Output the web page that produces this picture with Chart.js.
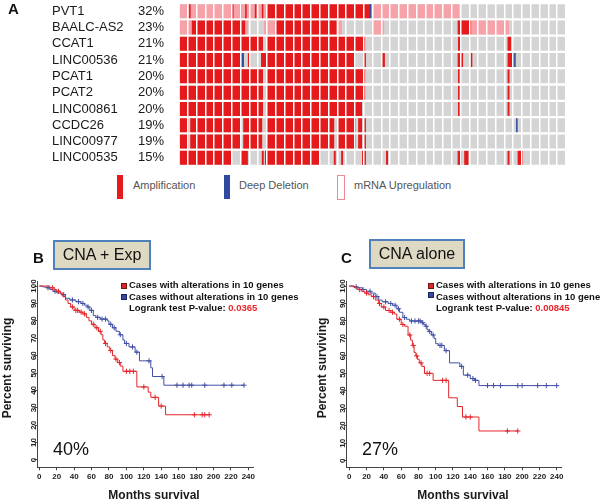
<!DOCTYPE html>
<html lang="en">
<head>
<meta charset="UTF-8" />
<title>Oncoprint and survival</title>
<script src="https://cdn.jsdelivr.net/npm/chart.js@4.4.1/dist/chart.umd.min.js"></script>
<style>
  body { margin:0; width:600px; height:504px; overflow:hidden; background:#fff; position:relative;
         font-family:"Liberation Sans", Arial, sans-serif; color:#1a1a1a; }
  .abs { position:absolute; white-space:nowrap; }
  .panel { font-weight:bold; font-size:15px; line-height:15px; color:#111; }
  .box { background:#ddd9c3; border:2px solid #4f81bd; box-sizing:border-box; font-size:16px;
         display:flex; align-items:center; justify-content:center; color:#111; }
  .leg { font-size:11px; line-height:11px; color:#555; }
  .km { font-size:9.5px; font-weight:bold; line-height:11.7px; color:#111; }
  .sq { width:4px; height:4px; border:1px solid; }
  .big { font-size:18px; line-height:18px; color:#111; }
  .axt { font-size:12px; font-weight:bold; line-height:14px; height:14px; text-align:center; color:#1a1a1a; }
  .rot { width:120px; transform:rotate(-90deg); }
</style>
</head>
<body>
<canvas id="onco" class="abs" style="left:0;top:0" width="600" height="170"></canvas>
<canvas id="kmB" class="abs" style="left:0;top:276px" width="300" height="228"></canvas>
<canvas id="kmC" class="abs" style="left:300px;top:276px" width="300" height="228"></canvas>

<div class="abs panel" style="left:8px;top:1px">A</div>
<div class="abs" style="left:117px;top:175px;width:6px;height:24px;background:#e41a1c"></div>
<div class="abs leg" style="left:133px;top:180px">Amplification</div>
<div class="abs" style="left:224px;top:175px;width:6px;height:24px;background:#2f4a9e"></div>
<div class="abs leg" style="left:239px;top:180px">Deep Deletion</div>
<div class="abs" style="left:337px;top:175px;width:6px;height:23px;border:1.5px solid #f08a90;background:#fff"></div>
<div class="abs leg" style="left:354px;top:180px">mRNA Upregulation</div>

<div class="abs panel" style="left:33px;top:250px">B</div>
<div class="abs box" style="left:53px;top:240px;width:98px;height:30px">CNA + Exp</div>
<div class="abs sq" style="left:121px;top:283px;background:#d8282c;border-color:#7a1010"></div>
<div class="abs sq" style="left:121px;top:294px;background:#3a48a0;border-color:#1c2460"></div>
<div class="abs km" style="left:129px;top:279px">Cases with alterations in 10 genes<br>Cases without alterations in 10 genes<br>Logrank test P-value: <span style="color:#e8262b">0.0365</span></div>
<div class="abs big" style="left:53px;top:440px">40%</div>
<div class="abs axt rot" style="left:-53px;top:361px">Percent surviving</div>
<div class="abs axt" style="left:84px;top:488px;width:140px">Months survival</div>

<div class="abs panel" style="left:341px;top:250px">C</div>
<div class="abs box" style="left:369px;top:239px;width:96px;height:30px">CNA alone</div>
<div class="abs sq" style="left:428px;top:283px;background:#d8282c;border-color:#7a1010"></div>
<div class="abs sq" style="left:428px;top:292px;background:#3a48a0;border-color:#1c2460"></div>
<div class="abs km" style="left:436px;top:279px">Cases with alterations in 10 genes<br>Cases without alterations in 10 genes<br>Logrank test P-value: <span style="color:#e8262b">0.00845</span></div>
<div class="abs big" style="left:362px;top:440px">27%</div>
<div class="abs axt rot" style="left:262px;top:361px">Percent surviving</div>
<div class="abs axt" style="left:393px;top:488px;width:140px">Months survival</div>

<script>
// ---- panel A: oncoprint (x = % of samples, left to right) ----
const genes = ["PVT1","BAALC-AS2","CCAT1","LINC00536","PCAT1","PCAT2","LINC00861","CCDC26","LINC00977","LINC00535"];
const genePct = ["32%","23%","21%","21%","20%","20%","20%","19%","19%","15%"];

const ampSegs = [
  [[22.7,49.4],[2.6,3.0],[13.7,14.1],[15.8,16.2],[17.1,17.5],[19.6,20.0],[21.4,21.8]],
  [[3.3,17.1],[24.8,40.7],[72.0,75.5]],
  [[0,21.7],[22.5,48.1],[72.1,72.6],[84.9,85.8]],
  [[0,16.2],[16.5,16.8],[17.8,18.2],[21.2,45.5],[47.8,48.3],[52.4,53.2],[72.0,73.4],[75.4,75.8],[84.9,86.6]],
  [[0,21.7],[22.5,48.1],[72.1,72.5],[84.9,85.4]],
  [[0,21.7],[22.5,48.1],[72.1,72.5],[84.9,85.4]],
  [[0,21.7],[22.5,47.3],[72.1,72.5],[84.9,85.4]],
  [[0,2.4],[2.9,16.0],[16.6,21.5],[22.5,40.1],[41.1,45.7],[46.3,47.3],[47.8,48.3]],
  [[0,2.4],[2.9,16.0],[16.6,21.5],[22.5,40.1],[41.1,45.7],[46.3,47.3],[47.8,48.3]],
  [[0,13.7],[15.8,17.8],[21.4,21.9],[22.2,36.4],[40.0,40.5],[41.9,42.4],[47.3,48.3],[53.5,54.0],[72.0,73.0],[73.7,74.8],[84.9,85.4],[87.5,88.9]]
];
const upSegs = [
  [[0,22.7],[49.4,72.4]],
  [[0,3.3],[17.1,17.8],[22.0,24.8],[40.7,42.1],[49.9,53.0],[75.5,85.3]],
  [],[],[],[],[],[],[],[]
];
const delSegs = [
  [[49.3,49.7]],
  [],[],
  [[16.2,16.6],[86.6,87.0]],
  [],[],[],
  [[87.1,87.5]],
  [],[]
];
const sampleCells = 44;

function segDatasets(segs, color, order) {
  const n = Math.max(...segs.map(s => s.length));
  const out = [];
  for (let k = 0; k < n; k++) {
    out.push({ data: segs.map(s => s[k] || null), backgroundColor: color, order: order });
  }
  return out;
}

const oncoSets = [
  ...segDatasets(delSegs, "#2f4a9e", 0),
  ...segDatasets(ampSegs, "#e41a1c", 1),
  ...segDatasets(upSegs, "#f5a3a8", 2),
  { data: genes.map(() => [0, 100]), backgroundColor: "#d4d4d4", order: 3 }
];

const geneLabels = {
  id: "geneLabels",
  afterDraw(chart) {
    const ctx = chart.ctx, y = chart.scales.y;
    ctx.save();
    ctx.font = '13px "Liberation Sans", Arial, sans-serif';
    ctx.fillStyle = "#1a1a1a";
    ctx.textBaseline = "middle";
    genes.forEach((g, i) => {
      const py = y.getPixelForValue(i);
      ctx.textAlign = "left";
      ctx.fillText(g, 52, py);
      ctx.textAlign = "right";
      ctx.fillText(genePct[i], 164, py);
    });
    ctx.restore();
  }
};

new Chart(document.getElementById("onco"), {
  type: "bar",
  data: { labels: genes, datasets: oncoSets },
  options: {
    indexAxis: "y", responsive: false, animation: false, events: [],
    layout: { padding: { left: 179, right: 34, top: 3, bottom: 4 } },
    plugins: { legend: { display: false }, tooltip: { enabled: false } },
    datasets: { bar: { grouped: false, barPercentage: 0.86, categoryPercentage: 1, borderWidth: 0 } },
    scales: {
      x: { min: 0, max: 100,
           ticks: { display: false, stepSize: 100 / sampleCells },
           grid: { color: "#fff", lineWidth: 1.5, drawTicks: false, z: 1 },
           border: { display: false } },
      y: { display: false }
    }
  },
  plugins: [geneLabels]
});

// ---- panels B and C: Kaplan-Meier curves ----
const monthTicks = [0,20,40,60,80,100,120,140,160,180,200,220,240];
const pctTicks = [0,10,20,30,40,50,60,70,80,90,100];

// B: CNA + Exp
const bAltT = [0,5,12,17,20,24,27,30,33,36,40,46,50,54,57,60,64,68,71,73,75,78,81,84,87,90,93,96,112,125,128,137,145];
const bAltS = [100,100,99,98,97,96,94,92,90,88,86,85,84,82,80,78,76,74,72,69,67,65,63,60,58,56,54,51,42,39,36,31,26];
const bAltCens = [15,22,38,42,44,48,52,62,66,70,76,82,88,92,100,104,108,120,133,140,178,187,190,195];
const bNoT = [0,4,8,12,16,20,25,30,35,42,48,52,55,58,62,65,70,78,80,84,88,92,96,98,103,110,115,128,130,143];
const bNoS = [100,99.5,99,98,97,96,95,93,92,91,90,89,88,86,83,82,81,80,78,76,74,72,69,67,65,62,57,53,48,43];
const bNoCens = [10,18,28,38,45,50,56,60,67,72,76,82,86,93,100,107,112,126,141,158,165,172,175,190,212,221,235];

// C: CNA alone
const cAltT = [0,6,10,14,18,22,26,30,34,37,42,48,52,55,60,64,68,71,73,75,77,79,81,84,87,97,115,125,131,150];
const cAltS = [100,99,98,97,96,95,94,92,90,88,86,85,84,81,78,77,72,69,66,62,60,58,56,54,50,46,36,31,25,17];
const cAltCens = [12,20,28,35,40,46,50,58,62,70,74,78,83,90,93,108,112,135,140,183,195];
const cNoT = [0,5,10,15,20,25,30,34,38,45,50,55,58,62,66,70,84,86,88,90,92,95,98,100,103,110,116,128,132,140,145,150];
const cNoS = [100,99.5,99,98,97,96,94,92,91,90,89,87,85,82,81,80,79,78,77,75,74,72,70,67,66,63,56,54,49,47,46,43];
const cNoCens = [8,16,24,32,42,48,53,57,64,72,76,80,82,85,89,93,97,105,107,112,130,137,143,146,160,167,175,195,200,218,228,240];

const redCol = "#e3262b", blueCol = "#4450a5";

function stepAt(times, surv, t) {
  let v = surv[0];
  times.forEach((tt, i) => { if (tt <= t) v = surv[i]; });
  return v;
}

function kmSets(times, surv, cens, color) {
  const pts = times.map((t, i) => ({ x: t, y: surv[i] }));
  const last = Math.max(...cens);
  if (last > times[times.length - 1]) pts.push({ x: last, y: surv[surv.length - 1] });
  return [
    { data: pts, showLine: true, stepped: true, borderColor: color, borderWidth: 1, pointRadius: 0 },
    { data: cens.map(t => ({ x: t, y: stepAt(times, surv, t) })), showLine: false,
      pointStyle: "cross", pointRadius: 2.6, borderColor: color, borderWidth: 1, backgroundColor: color }
  ];
}

function kmChart(id, sets, g) {
  const tickFont = { family: '"Liberation Sans", Arial, sans-serif', size: 8, weight: "bold" };
  new Chart(document.getElementById(id), {
    type: "scatter",
    data: { datasets: sets },
    options: {
      responsive: false, animation: false, events: [],
      layout: { padding: { left: 0, right: g.padRight, top: 5.7, bottom: 0 } },
      plugins: { legend: { display: false }, tooltip: { enabled: false } },
      scales: {
        x: { type: "linear", min: g.xMin, max: g.xMax,
             afterBuildTicks: s => { s.ticks = monthTicks.map(v => ({ value: v })); },
             afterFit: s => { s.height = 36.7; },
             ticks: { font: tickFont, color: "#222", padding: 1.6, maxRotation: 0, autoSkip: false },
             grid: { drawOnChartArea: false, tickLength: 3, color: "#444" },
             border: { color: "#444" } },
        y: { min: g.yMin, max: 102.5,
             afterBuildTicks: s => { s.ticks = pctTicks.map(v => ({ value: v })); },
             afterFit: s => { s.width = g.yWidth; },
             ticks: { font: tickFont, color: "#222", minRotation: 90, maxRotation: 90, crossAlign: "center",
                      padding: -5.7, autoSkip: false },
             grid: { drawOnChartArea: false, tickLength: 3, color: "#444" },
             border: { color: "#444" } }
      }
    }
  });
}

kmChart("kmB", [...kmSets(bAltT, bAltS, bAltCens, redCol), ...kmSets(bNoT, bNoS, bNoCens, blueCol)],
  { xMin: -2.3, xMax: 245.7, yMin: -4.2, yWidth: 37.3, padRight: 46.7 });
kmChart("kmC", [...kmSets(cAltT, cAltS, cAltCens, redCol), ...kmSets(cNoT, cNoS, cNoCens, blueCol)],
  { xMin: -3.0, xMax: 245.8, yMin: -3.8, yWidth: 46.7, padRight: 38.3 });
</script>
</body>
</html>
